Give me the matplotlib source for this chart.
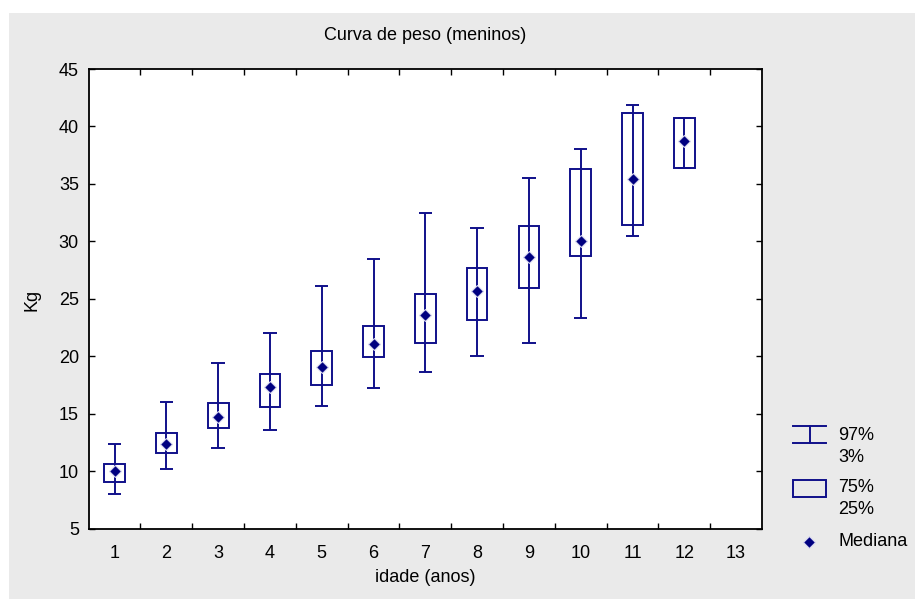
import numpy as np
import matplotlib.pyplot as plt
from matplotlib.lines import Line2D
from matplotlib.patches import Rectangle

# Datos (percentis do peso por idade)
idade = [1, 2, 3, 4, 5, 6, 7, 8, 9, 10, 11, 12]
p3 = [8.0, 10.2, 12.0, 13.6, 15.7, 17.2, 18.6, 20.0, 21.2, 23.3, 30.5, 36.4]
p25 = [9.1, 11.6, 13.8, 15.6, 17.5, 19.9, 21.2, 23.2, 25.9, 28.7, 31.4, 36.4]
mediana = [10.0, 12.4, 14.7, 17.3, 19.1, 21.1, 23.6, 25.7, 28.6, 30.0, 35.4, 38.7]
p75 = [10.6, 13.3, 15.9, 18.5, 20.5, 22.6, 25.4, 27.7, 31.3, 36.3, 41.2, 40.7]
p97 = [12.4, 16.0, 19.4, 22.0, 26.1, 28.5, 32.5, 31.2, 35.5, 38.0, 41.9, 40.7]

x_ticks = list(range(1, 14))
y_ticks = list(range(5, 50, 5))

AZUL = '#10108a'
FS = 13
LW = 1.4
MS = 6.5

plt.rcParams['font.family'] = ['Liberation Sans', 'DejaVu Sans']

fig = plt.figure(figsize=(9.15, 5.99), dpi=100)
fig.patch.set_facecolor('white')

# panel gris de fondo
fondo = Rectangle((9 / 915, 0), 1 - 9 / 915, 1 - 13 / 599, transform=fig.transFigure,
                  facecolor='#eaeaea', edgecolor='none', zorder=-10)
fig.patches.append(fondo)

ax = fig.add_axes([0.0969, 0.1174, 0.7359, 0.7674])
ax.set_facecolor('white')

x = np.array(idade)
# bigodes (3% - 97%)
ax.vlines(x, p3, p97, color=AZUL, lw=LW, zorder=2)
ax.hlines(p3, x - 0.13, x + 0.13, color=AZUL, lw=LW, zorder=2)
ax.hlines(p97, x - 0.13, x + 0.13, color=AZUL, lw=LW, zorder=2)
# caixas (25% - 75%)
ax.bar(x, np.array(p75) - np.array(p25), bottom=p25, width=0.4, fill=False,
       edgecolor=AZUL, linewidth=LW, zorder=3)
# mediana
ax.plot(x, mediana, 'D', color='#000080', ms=MS, mec='#d8d8f0', mew=0.8, zorder=4)

ax.set_xlim(0.5, 13.5)
ax.set_ylim(5, 45)
ax.set_xticks(x_ticks)
ax.set_xticks(np.arange(1.5, 13, 1), minor=True)
ax.set_yticks(y_ticks)
ax.tick_params(axis='x', which='major', length=0, pad=12, labelsize=FS)
ax.tick_params(axis='x', which='minor', direction='in', length=4, top=True, bottom=True, width=1)
ax.tick_params(axis='y', which='major', direction='in', length=4, left=True, right=True,
               pad=7, labelsize=FS, width=1)
for s in ax.spines.values():
    s.set_linewidth(1.3)

fig.text(0.4647, 1 - 35 / 599, 'Curva de peso (meninos)', ha='center', va='center', fontsize=FS)
fig.text(0.4647, 1 - 578 / 599, 'idade (anos)', ha='center', va='center', fontsize=FS)
fig.text(32 / 915, 0.5, 'Kg', ha='center', va='center', rotation=90, fontsize=FS)

# leyenda manual
def fx(px):
    return px / 915

def fy(py):
    return 1 - py / 599

for yy in (426, 443):
    fig.add_artist(Line2D([fx(793), fx(826)], [fy(yy), fy(yy)], color=AZUL, lw=LW))
fig.add_artist(Line2D([fx(810), fx(810)], [fy(426), fy(443)], color=AZUL, lw=LW))
fig.add_artist(Rectangle((fx(793), fy(497)), fx(826) - fx(793), fy(480) - fy(497),
                         transform=fig.transFigure, fill=False, edgecolor=AZUL, lw=LW))
fig.add_artist(Line2D([fx(809)], [fy(542)], marker='D', color='#000080', ms=MS,
                      mec='#d8d8f0', mew=0.8, ls='none'))

fig.text(fx(838), fy(435), '97%', ha='left', va='center', fontsize=FS)
fig.text(fx(838), fy(458), '3%', ha='left', va='center', fontsize=FS)
fig.text(fx(838), fy(488), '75%', ha='left', va='center', fontsize=FS)
fig.text(fx(838), fy(510), '25%', ha='left', va='center', fontsize=FS)
fig.text(fx(838), fy(542), 'Mediana', ha='left', va='center', fontsize=FS)

plt.savefig('out.png', dpi=100)
